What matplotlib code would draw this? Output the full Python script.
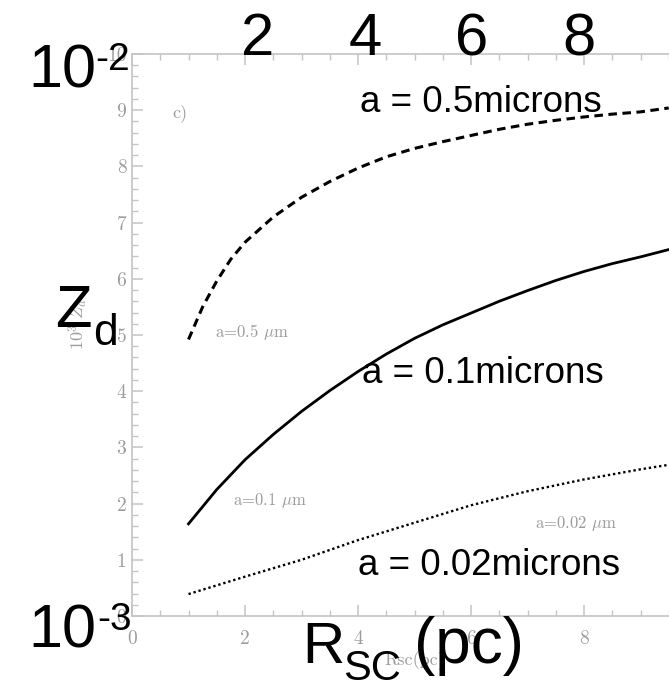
import numpy as np
import matplotlib.pyplot as plt

# Curve data (Z_d in units of 1e-3, R_SC in pc)
r_big = [1.0, 1.25, 1.5, 1.75, 2.0, 2.5, 3.0, 3.5, 4.0, 4.5, 5.0, 5.5, 6.0,
         6.5, 7.0, 7.5, 8.0, 8.5, 9.0, 9.5]
z_big = [4.92, 5.50, 5.96, 6.35, 6.65, 7.10, 7.45, 7.73, 7.97, 8.17, 8.32,
         8.44, 8.55, 8.66, 8.75, 8.82, 8.88, 8.93, 8.97, 9.04]

r_mid = [1.0, 1.5, 2.0, 2.5, 3.0, 3.5, 4.0, 4.5, 5.0, 5.5, 6.0, 6.5, 7.0,
         7.5, 8.0, 8.5, 9.0, 9.5]
z_mid = [1.64, 2.25, 2.78, 3.23, 3.64, 4.01, 4.35, 4.66, 4.94, 5.18, 5.39,
         5.60, 5.79, 5.97, 6.13, 6.27, 6.39, 6.52]

r_small = [1.0, 2.0, 3.0, 4.0, 5.0, 6.0, 7.0, 8.0, 9.0, 9.5]
z_small = [0.39, 0.70, 1.00, 1.35, 1.66, 1.97, 2.22, 2.43, 2.61, 2.69]

# old (scanned) labels and the big overlaid labels
old_labels = ["a=0.5 $\\mu$m", "a=0.1 $\\mu$m", "a=0.02 $\\mu$m"]
new_labels = ["a = 0.5microns", "a = 0.1microns", "a = 0.02microns"]
top_labels = ["2", "4", "6", "8"]
x_ticks = [0, 2, 4, 6, 8]
y_ticks = [0, 1, 2, 3, 4, 5, 6, 7, 8, 9, 10]

plt.rcParams['mathtext.fontset'] = 'cm'
plt.rcParams['axes.formatter.use_mathtext'] = True

W, H = 669, 682
fig = plt.figure(figsize=(W / 100, H / 100), dpi=100)

def px(x, y):
    # pixel position (from top-left) -> figure fraction
    return x / W, 1 - y / H

grey = '#9c9c9c'
ax = fig.add_axes([132 / W, 66 / H, 537 / W, 562 / H])
ax.set_xlim(0, 537 / 56.5)
ax.set_ylim(0, 10)

# curves
ax.plot(r_big, z_big, color='black', lw=2.2, linestyle=(0, (2.8, 1.8)))
ax.plot(r_mid, z_mid, color='black', lw=2.0)
ax.plot(r_small, z_small, color='black', lw=1.7, linestyle=(0, (1, 1.2)))

# scanned-figure look: grey frame and ticks
for side in ['left', 'bottom', 'top']:
    ax.spines[side].set_color('#c4c4c4')
    ax.spines[side].set_linewidth(1.2)
ax.spines['right'].set_visible(False)

ax.set_xticks(x_ticks)
ax.set_xticklabels([str(v) for v in x_ticks])
ax.set_xticks(np.arange(0, 9.6, 0.5), minor=True)
ax.set_yticks(y_ticks)
ax.set_yticklabels([str(v) for v in y_ticks])
ax.set_yticks(np.arange(0, 10.01, 0.2), minor=True)
ax.tick_params(axis='both', which='both', direction='in', color='#c4c4c4',
               labelcolor=grey, labelsize=14)
ax.tick_params(axis='x', which='both', top=True, bottom=True, pad=10)
ax.tick_params(axis='y', which='both', left=True, right=False, pad=4)
ax.tick_params(which='major', length=8, width=1.1)
ax.tick_params(which='minor', length=4, width=1.0)
for lbl in ax.get_xticklabels() + ax.get_yticklabels():
    lbl.set_fontfamily('cmr10')

# small grey annotations of the original figure
small = dict(color=grey, family='cmr10')
ax.text(0.71, 8.88, "c)", fontsize=13, **small)
ax.text(1.47, 4.96, old_labels[0], fontsize=12, **small)
ax.text(1.79, 1.98, old_labels[1], fontsize=12, **small)
ax.text(7.13, 1.57, old_labels[2], fontsize=12, **small)
ax.text(5.0, -0.88, "Rsc(pc)", fontsize=13, ha='center', clip_on=False, **small)
ax.text(-0.96, 5.2, "$10^3\\ Z_d$", color=grey, fontsize=13, rotation=90,
        ha='center', va='center', clip_on=False)

# big overlaid labels
big = dict(family='Liberation Sans', color='black', va='baseline', ha='left')
fig.text(*px(28, 88), "10", fontsize=44, **big)
fig.text(*px(95, 70), "-2", fontsize=28, **big)
fig.text(*px(28, 648), "10", fontsize=44, **big)
fig.text(*px(97, 630), "-3", fontsize=28, **big)

for i, lab in enumerate(top_labels):
    fig.text(*px(258 + 107 * i, 55), lab, fontsize=43,
             **dict(big, ha='center'))

fig.text(*px(55, 327), "Z", fontsize=43, **big)
fig.text(*px(93, 345), "d", fontsize=32, **big)

fig.text(*px(302, 663), "R", fontsize=42, **big)
fig.text(*px(343, 680), "SC", fontsize=30, **big)
fig.text(*px(414, 663), "(pc)", fontsize=46, **big)

fig.text(*px(360, 112), new_labels[0], fontsize=26.5, **big)
fig.text(*px(362, 383), new_labels[1], fontsize=26.5, **big)
fig.text(*px(358, 575), new_labels[2], fontsize=26.5, **big)

fig.savefig("out.png", dpi=100)
